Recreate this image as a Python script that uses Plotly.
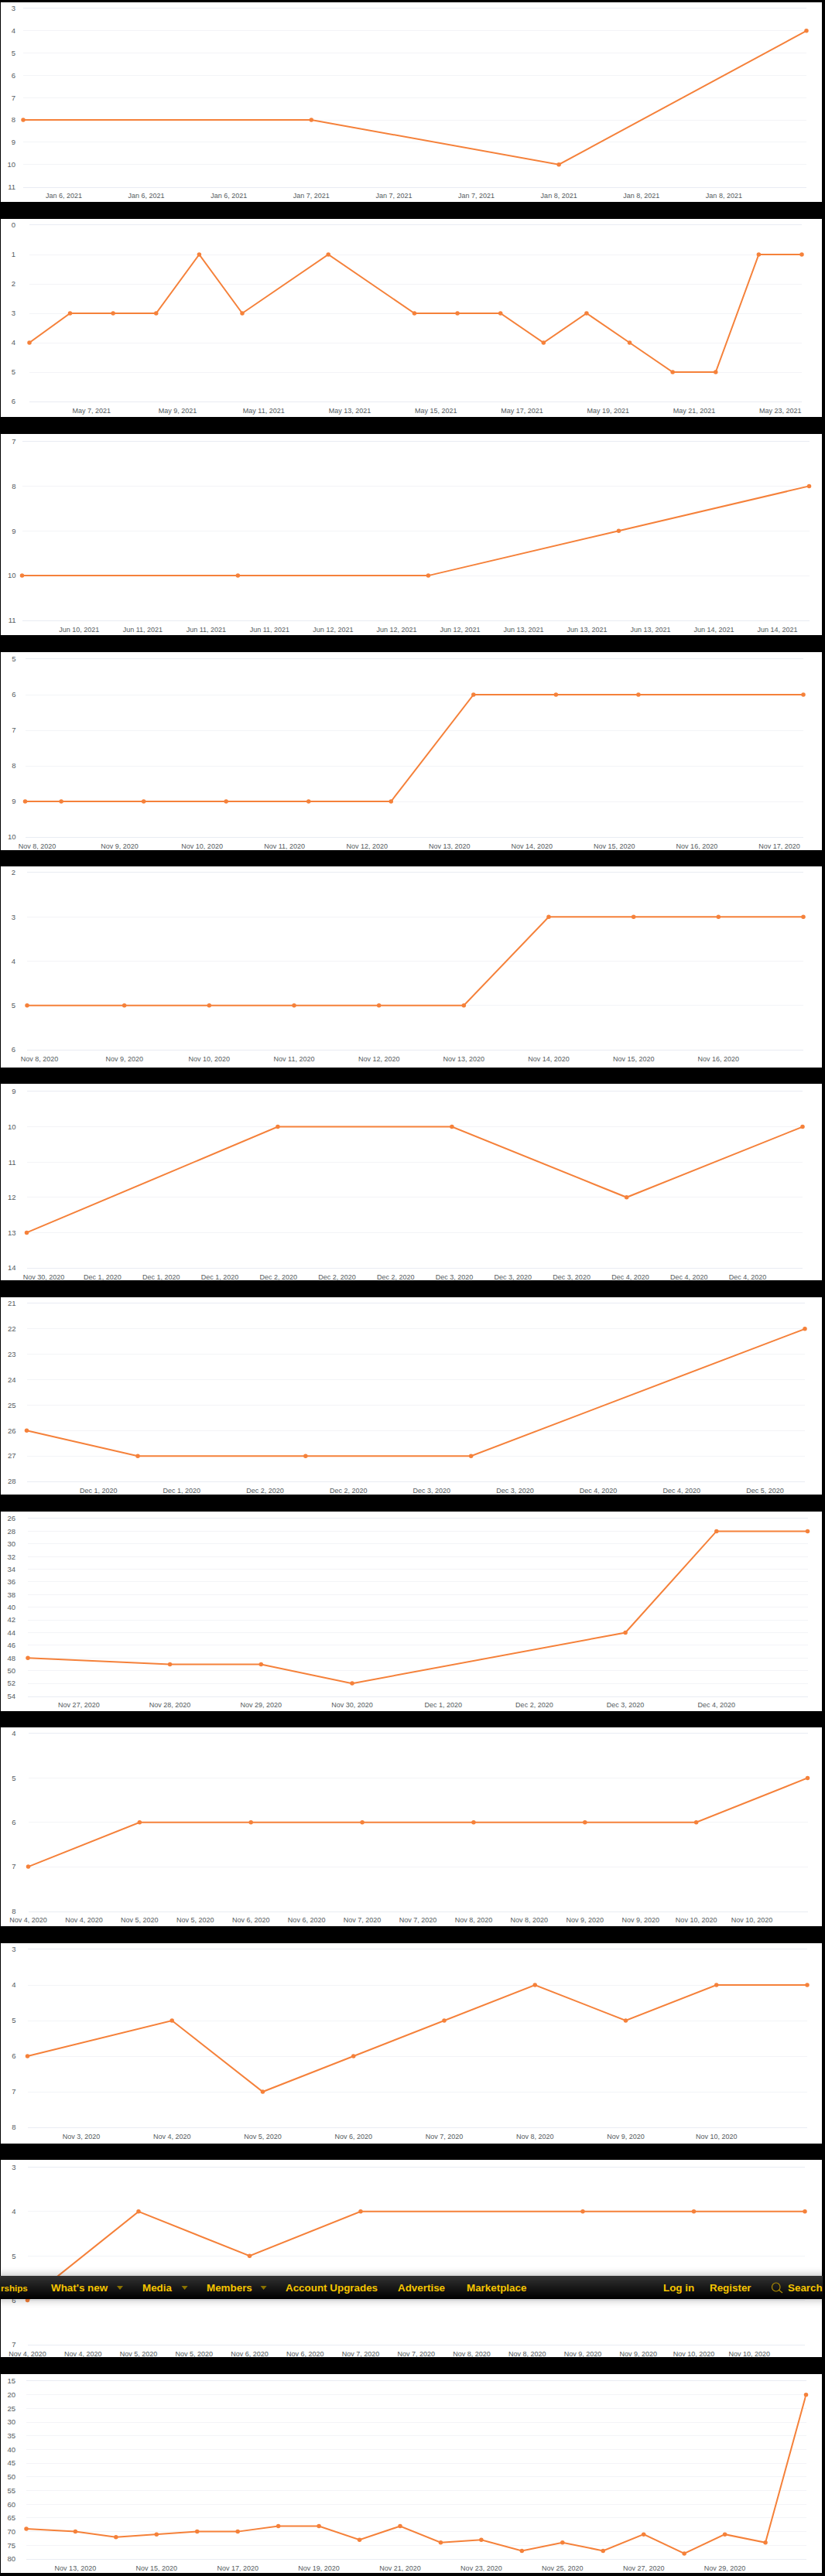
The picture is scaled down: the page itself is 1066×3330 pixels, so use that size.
import plotly.graph_objects as go

W, H = 1066, 3330

# ---------- data ----------
x_1 = ["2021-01-05 20:04", "2021-01-07", "2021-01-08", "2021-01-09"]
y_1 = [8, 8, 10, 4]
xt_1 = ["2021-01-06 00:00", "2021-01-06 08:00", "2021-01-06 16:00", "2021-01-07 00:00", "2021-01-07 08:00", "2021-01-07 16:00", "2021-01-08 00:00", "2021-01-08 08:00", "2021-01-08 16:00"]
xl_1 = ["Jan 6, 2021"] * 3 + ["Jan 7, 2021"] * 3 + ["Jan 8, 2021"] * 3
yt_1 = [3, 4, 5, 6, 7, 8, 9, 10, 11]

x_2 = ["2021-05-05 13:20", "2021-05-06 12:00", "2021-05-07 12:00", "2021-05-08 12:00", "2021-05-09 12:00", "2021-05-10 12:00", "2021-05-12 12:00", "2021-05-14 12:00", "2021-05-15 12:00", "2021-05-16 12:00", "2021-05-17 12:00", "2021-05-18 12:00", "2021-05-19 12:00", "2021-05-20 12:00", "2021-05-21 12:00", "2021-05-22 12:00", "2021-05-23 12:00"]
y_2 = [4, 3, 3, 3, 1, 3, 1, 3, 3, 3, 4, 3, 4, 5, 5, 1, 1]
xt_2 = ["2021-05-07", "2021-05-09", "2021-05-11", "2021-05-13", "2021-05-15", "2021-05-17", "2021-05-19", "2021-05-21", "2021-05-23"]
xl_2 = ["May 7, 2021", "May 9, 2021", "May 11, 2021", "May 13, 2021", "May 15, 2021", "May 17, 2021", "May 19, 2021", "May 21, 2021", "May 23, 2021"]
yt_2 = [0, 1, 2, 3, 4, 5, 6]

x_3 = ["2021-06-10 08:48", "2021-06-11 12:00", "2021-06-12 12:00", "2021-06-13 12:00", "2021-06-14 12:00"]
y_3 = [10, 10, 10, 9, 8]
xt_3 = ["2021-06-10 16:00", "2021-06-11 00:00", "2021-06-11 08:00", "2021-06-11 16:00", "2021-06-12 00:00", "2021-06-12 08:00", "2021-06-12 16:00", "2021-06-13 00:00", "2021-06-13 08:00", "2021-06-13 16:00", "2021-06-14 00:00", "2021-06-14 08:00"]
xl_3 = ["Jun 10, 2021"] + ["Jun 11, 2021"] * 3 + ["Jun 12, 2021"] * 3 + ["Jun 13, 2021"] * 3 + ["Jun 14, 2021"] * 2
yt_3 = [7, 8, 9, 10, 11]

x_4 = ["2020-11-07 20:30", "2020-11-08 07:00", "2020-11-09 07:00", "2020-11-10 07:00", "2020-11-11 07:00", "2020-11-12 07:00", "2020-11-13 07:00", "2020-11-14 07:00", "2020-11-15 07:00", "2020-11-17 07:00"]
y_4 = [9, 9, 9, 9, 9, 9, 6, 6, 6, 6]
xt_4 = ["2020-11-08", "2020-11-09", "2020-11-10", "2020-11-11", "2020-11-12", "2020-11-13", "2020-11-14", "2020-11-15", "2020-11-16", "2020-11-17"]
xl_4 = ["Nov 8, 2020", "Nov 9, 2020", "Nov 10, 2020", "Nov 11, 2020", "Nov 12, 2020", "Nov 13, 2020", "Nov 14, 2020", "Nov 15, 2020", "Nov 16, 2020", "Nov 17, 2020"]
yt_4 = [5, 6, 7, 8, 9, 10]

x_5 = ["2020-11-07 20:30", "2020-11-09", "2020-11-10", "2020-11-11", "2020-11-12", "2020-11-13", "2020-11-14", "2020-11-15", "2020-11-16", "2020-11-17"]
y_5 = [5, 5, 5, 5, 5, 5, 3, 3, 3, 3]
xt_5 = ["2020-11-08", "2020-11-09", "2020-11-10", "2020-11-11", "2020-11-12", "2020-11-13", "2020-11-14", "2020-11-15", "2020-11-16"]
xl_5 = ["Nov 8, 2020", "Nov 9, 2020", "Nov 10, 2020", "Nov 11, 2020", "Nov 12, 2020", "Nov 13, 2020", "Nov 14, 2020", "Nov 15, 2020", "Nov 16, 2020"]
yt_5 = [2, 3, 4, 5, 6]

x_6 = ["2020-11-30 13:40", "2020-12-01 23:55", "2020-12-02 23:40", "2020-12-03 23:30", "2020-12-04 23:30"]
y_6 = [13, 10, 10, 12, 10]
xt_6 = ["2020-11-30 16:00", "2020-12-01 00:00", "2020-12-01 08:00", "2020-12-01 16:00", "2020-12-02 00:00", "2020-12-02 08:00", "2020-12-02 16:00", "2020-12-03 00:00", "2020-12-03 08:00", "2020-12-03 16:00", "2020-12-04 00:00", "2020-12-04 08:00", "2020-12-04 16:00"]
xl_6 = ["Nov 30, 2020"] + ["Dec 1, 2020"] * 3 + ["Dec 2, 2020"] * 3 + ["Dec 3, 2020"] * 3 + ["Dec 4, 2020"] * 3
yt_6 = [9, 10, 11, 12, 13, 14]

x_7 = ["2020-11-30 13:40", "2020-12-01 05:40", "2020-12-02 05:50", "2020-12-03 05:40", "2020-12-05 05:45"]
y_7 = [26, 27, 27, 27, 22]
xt_7 = ["2020-12-01 00:00", "2020-12-01 12:00", "2020-12-02 00:00", "2020-12-02 12:00", "2020-12-03 00:00", "2020-12-03 12:00", "2020-12-04 00:00", "2020-12-04 12:00", "2020-12-05 00:00"]
xl_7 = ["Dec 1, 2020"] * 2 + ["Dec 2, 2020"] * 2 + ["Dec 3, 2020"] * 2 + ["Dec 4, 2020"] * 2 + ["Dec 5, 2020"]
yt_7 = [21, 22, 23, 24, 25, 26, 27, 28]

x_8 = ["2020-11-26 10:34", "2020-11-28", "2020-11-29", "2020-11-30", "2020-12-03", "2020-12-04", "2020-12-05"]
y_8 = [48, 49, 49, 52, 44, 28, 28]
xt_8 = ["2020-11-27", "2020-11-28", "2020-11-29", "2020-11-30", "2020-12-01", "2020-12-02", "2020-12-03", "2020-12-04"]
xl_8 = ["Nov 27, 2020", "Nov 28, 2020", "Nov 29, 2020", "Nov 30, 2020", "Dec 1, 2020", "Dec 2, 2020", "Dec 3, 2020", "Dec 4, 2020"]
yt_8 = [26, 28, 30, 32, 34, 36, 38, 40, 42, 44, 46, 48, 50, 52, 54]

x_9 = ["2020-11-04", "2020-11-05", "2020-11-06", "2020-11-07", "2020-11-08", "2020-11-09", "2020-11-10", "2020-11-11"]
y_9 = [7, 6, 6, 6, 6, 6, 6, 5]
xt_9 = ["2020-11-04 00:00", "2020-11-04 12:00", "2020-11-05 00:00", "2020-11-05 12:00", "2020-11-06 00:00", "2020-11-06 12:00", "2020-11-07 00:00", "2020-11-07 12:00", "2020-11-08 00:00", "2020-11-08 12:00", "2020-11-09 00:00", "2020-11-09 12:00", "2020-11-10 00:00", "2020-11-10 12:00"]
xl_9 = ["Nov 4, 2020"] * 2 + ["Nov 5, 2020"] * 2 + ["Nov 6, 2020"] * 2 + ["Nov 7, 2020"] * 2 + ["Nov 8, 2020"] * 2 + ["Nov 9, 2020"] * 2 + ["Nov 10, 2020"] * 2
yt_9 = [4, 5, 6, 7, 8]

x_10 = ["2020-11-02 09:47", "2020-11-04", "2020-11-05", "2020-11-06", "2020-11-07", "2020-11-08", "2020-11-09", "2020-11-10", "2020-11-11"]
y_10 = [6, 5, 7, 6, 5, 4, 5, 4, 4]
xt_10 = ["2020-11-03", "2020-11-04", "2020-11-05", "2020-11-06", "2020-11-07", "2020-11-08", "2020-11-09", "2020-11-10"]
xl_10 = ["Nov 3, 2020", "Nov 4, 2020", "Nov 5, 2020", "Nov 6, 2020", "Nov 7, 2020", "Nov 8, 2020", "Nov 9, 2020", "Nov 10, 2020"]
yt_10 = [3, 4, 5, 6, 7, 8]

x_11 = ["2020-11-04", "2020-11-05", "2020-11-06", "2020-11-07", "2020-11-09", "2020-11-10", "2020-11-11"]
y_11 = [6, 4, 5, 4, 4, 4, 4]
xt_11 = xt_9
xl_11 = xl_9
yt_11 = [3, 4, 5, 6, 7]

x_12 = ["2020-11-11 19:00", "2020-11-13", "2020-11-14", "2020-11-15", "2020-11-16", "2020-11-17", "2020-11-18", "2020-11-19", "2020-11-20", "2020-11-21", "2020-11-22", "2020-11-23", "2020-11-24", "2020-11-25", "2020-11-26", "2020-11-27", "2020-11-28", "2020-11-29", "2020-11-30", "2020-12-01"]
y_12 = [69, 70, 72, 71, 70, 70, 68, 68, 73, 68, 74, 73, 77, 74, 77, 71, 78, 71, 74, 20]
xt_12 = ["2020-11-13", "2020-11-15", "2020-11-17", "2020-11-19", "2020-11-21", "2020-11-23", "2020-11-25", "2020-11-27", "2020-11-29"]
xl_12 = ["Nov 13, 2020", "Nov 15, 2020", "Nov 17, 2020", "Nov 19, 2020", "Nov 21, 2020", "Nov 23, 2020", "Nov 25, 2020", "Nov 27, 2020", "Nov 29, 2020"]
yt_12 = [15, 20, 25, 30, 35, 40, 45, 50, 55, 60, 65, 70, 75, 80]

series = [
    (x_1, y_1, xt_1, xl_1, yt_1), (x_2, y_2, xt_2, xl_2, yt_2), (x_3, y_3, xt_3, xl_3, yt_3),
    (x_4, y_4, xt_4, xl_4, yt_4), (x_5, y_5, xt_5, xl_5, yt_5), (x_6, y_6, xt_6, xl_6, yt_6),
    (x_7, y_7, xt_7, xl_7, yt_7), (x_8, y_8, xt_8, xl_8, yt_8), (x_9, y_9, xt_9, xl_9, yt_9),
    (x_10, y_10, xt_10, xl_10, yt_10), (x_11, y_11, xt_11, xl_11, yt_11), (x_12, y_12, xt_12, xl_12, yt_12),
]

nav_items = ["rships", "What's new", "Media", "Members", "Account Upgrades", "Advertise", "Marketplace", "Log in", "Register", "Search"]

# ---------- layout geometry (pixels): white top/bottom, plot left/right/top/bottom ----------
panels = [
    (3, 261, 30, 1042, 11, 241.5), (283, 539, 38, 1036, 291, 519),
    (561, 821, 28.5, 1045.5, 570.5, 802), (843, 1099, 32.5, 1038, 852, 1082),
    (1120, 1380, 35, 1038, 1128, 1357), (1401, 1655, 34.5, 1037, 1411, 1639),
    (1677, 1932, 34.5, 1040, 1685, 1915), (1954, 2212, 36, 1043.5, 1963, 2192.5),
    (2233, 2490, 36.5, 1043.5, 2241, 2470.5), (2512, 2771, 35.5, 1043, 2520, 2750),
    (2792, 3047, 35.5, 1040, 2801.5, 3031), (3069, 3326, 34, 1041.5, 3078, 3308),
]
nav_x = [1, 66, 183.5, 267, 369, 514, 603, 856.5, 917, 1018]
nav_size = [11.6, 13.4, 13.4, 13.4, 13.4, 13.4, 13.4, 13.4, 13.4, 13.4]
nav_arrow_x = [155, 238.6, 340.6]

ORANGE = "#f5813a"
FONT = "Liberation Sans"


def px(x):
    return x / W


def py(y):
    return 1 - y / H


fig = go.Figure()
layout = {}
shapes = []

for i, ((xs, ys, xt, xl, yt), (wt, wb, l, r, t, b)) in enumerate(zip(series, panels), start=1):
    shapes.append(dict(type="rect", xref="paper", yref="paper", x0=px(1), x1=px(1062), y0=py(wb), y1=py(wt),
                       fillcolor="white", line_width=0, layer="below"))
    fig.add_trace(go.Scatter(x=xs, y=ys, mode="lines+markers", xaxis=f"x{i}", yaxis=f"y{i}",
                             line=dict(color=ORANGE, width=2), marker=dict(color=ORANGE, size=5.5),
                             cliponaxis=False, showlegend=False))
    layout[f"xaxis{i}"] = dict(type="date", domain=[px(l), px(r)], anchor=f"y{i}", range=[xs[0], xs[-1]],
                               tickmode="array", tickvals=xt, ticktext=xl, ticks="", showgrid=False,
                               zeroline=False, showline=True, mirror=True, linecolor="#e9ecf3", linewidth=1,
                               tickangle=0, tickfont=dict(family=FONT, size=9, color="#555b5e"),
                               ticklabelstandoff=3)
    layout[f"yaxis{i}"] = dict(domain=[py(b), py(t)], anchor=f"x{i}", range=[yt[-1], yt[0]],
                               tickmode="array", tickvals=yt, ticks="", showgrid=True, gridcolor="#f3f4f7",
                               gridwidth=1, zeroline=False, showline=False,
                               tickfont=dict(family=FONT, size=9.5, color="#555b5e"),
                               ticklabelstandoff=int(max(l - 21, 0)))

# nav bar: shadow and gradient built from thin strips
TOP, BOT = 2942, 2972
for k in range(12):
    alpha = 0.03 + 0.04 * (11 - k) / 11 * 3
    for y0, y1 in ((TOP - k - 1, TOP - k), (BOT + k, BOT + k + 1)):
        shapes.append(dict(type="rect", xref="paper", yref="paper", x0=px(1), x1=px(1062), y0=py(y1), y1=py(y0),
                           fillcolor=f"rgba(0,0,0,{alpha * (12 - k) / 12:.3f})", line_width=0, layer="above"))
for k in range(BOT - TOP):
    v = int(50 - 50 * k / (BOT - TOP - 1))
    shapes.append(dict(type="rect", xref="paper", yref="paper", x0=px(0), x1=px(1063), y0=py(k + TOP + 1), y1=py(k + TOP),
                       fillcolor=f"rgb({v},{v},{v})", line_width=0, layer="above"))
for ax in nav_arrow_x:
    shapes.append(dict(type="path", xref="paper", yref="paper", layer="above", line_width=0, fillcolor="#8a7200",
                       path=f"M {px(ax-4)} {py(2955)} L {px(ax+4)} {py(2955)} L {px(ax)} {py(2960)} Z"))
shapes.append(dict(type="circle", xref="paper", yref="paper", layer="above", fillcolor="rgba(0,0,0,0)",
                   x0=px(997.5), x1=px(1008), y0=py(2962), y1=py(2951), line=dict(color="#b08d00", width=1.2)))
shapes.append(dict(type="line", xref="paper", yref="paper", layer="above",
                   x0=px(1006), x1=px(1011), y0=py(2960), y1=py(2964), line=dict(color="#b08d00", width=1.2)))

annotations = []
for txt, x, size in zip(nav_items, nav_x, nav_size):
    annotations.append(dict(text=txt, xref="paper", yref="paper", x=px(x), y=py(2957), showarrow=False,
                            xanchor="left", yanchor="middle",
                            font=dict(family=FONT, size=size, color="#f5c400", weight="bold"),
                            borderpad=0, borderwidth=0))

fig.update_layout(width=W, height=H, margin=dict(l=0, r=0, t=0, b=0, pad=0, autoexpand=False), autosize=False,
                  paper_bgcolor="black", plot_bgcolor="rgba(0,0,0,0)", showlegend=False, hovermode=False,
                  shapes=shapes, annotations=annotations, **layout)

fig.write_html("out.html", config=dict(displayModeBar=False),
               post_script="document.body.style.margin='0';document.body.style.background='#000';document.documentElement.style.overflow='hidden';")
